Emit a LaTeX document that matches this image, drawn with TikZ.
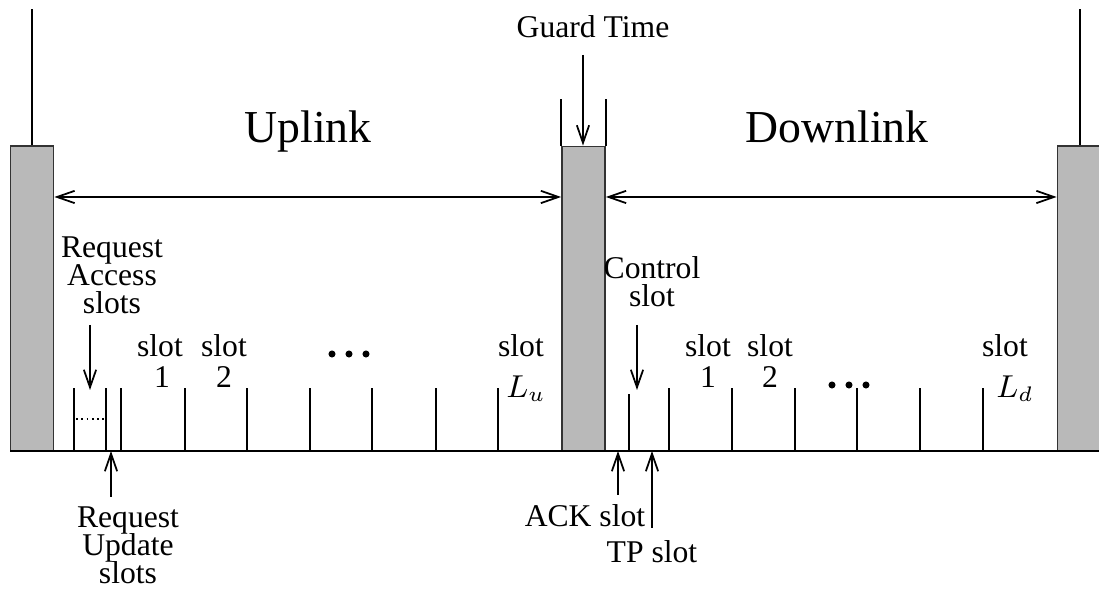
\documentclass[tikz,border=0pt]{standalone}
\usepackage{fontspec}
\setmainfont{Liberation Serif}
\usetikzlibrary{arrows.meta}

\newcommand\lblfont{\fontsize{9}{8}\selectfont\lineskiplimit=-6pt\relax}

\tikzset{
  guard/.style={draw=black!80, fill=gray!55, line width=0.5pt,
                inner sep=0, minimum width=0.43cm, minimum height=3.05cm},
  tick/.style={line width=0.5pt},
  lbl/.style={font=\lblfont, inner sep=0, align=center},
  big lbl/.style={font=\fontsize{13}{15}\selectfont, inner sep=0},
  ptr/.style={-{Straight Barb[length=5pt,width=3.5pt]}, line width=0.5pt},
  span arrow/.style={{Straight Barb[length=5pt,width=3.5pt]}-{Straight Barb[length=5pt,width=3.5pt]}, line width=0.5pt},
}

\begin{document}
\begin{tikzpicture}[x=0.01cm, y=-0.01cm]
    \useasboundingbox (0,0) rectangle (1099,589);

    % --- guard boxes ---
    \node[guard] (gl) at (32, 298.5) {};
    \node[guard] (gm) at (583.5, 299) {};
    \node[guard, minimum width=0.45cm] (gr) at (1080, 298.5) {};
    \draw[tick] (gl.north) -- ++(0,-136);
    \draw[tick] (gr.north) -- ++(0,-136);
    \draw[tick] (gm.north west) -- ++(0,-47);
    \draw[tick] (gm.north east) -- ++(0,-47);

    % --- time axis ---
    \coordinate (axl) at (10,451);
    \coordinate (axr) at (1099,451);
    \draw[line width=0.7pt] (axl) -- (axr);

    % --- uplink / downlink spans ---
    \coordinate (lk) at (0,197);
    \draw[span arrow] (gl.east |- lk) -- (gm.west |- lk);
    \draw[span arrow] (gm.east |- lk) -- (gr.west |- lk);
    \node[big lbl, anchor=base] (up) at (308,143) {Uplink};
    \node[big lbl, anchor=base] (down) at (837,143) {Downlink};

    % --- guard time ---
    \node[lbl, anchor=base] (gt) at (593,38) {Guard Time};
    \coordinate (gtp) at (583,55);
    \draw[ptr] (gtp) -- (gtp |- gm.north);

    % --- uplink slots ---
    \foreach \x in {74,106,121,185,247,310,372,436,498}
      \draw[tick] (\x,451) -- (\x,388);
    \draw[tick, densely dotted] (76,419) -- (106,419);
    \node[lbl, anchor=base] (us1) at (160,357) {slot};
    \node[lbl, anchor=base] (un1) at (162,388) {1};
    \node[lbl, anchor=base] (us2) at (224,357) {slot};
    \node[lbl, anchor=base] (un2) at (224,388) {2};
    \node[lbl, anchor=base] (usl) at (521,357) {slot};
    \node[lbl, anchor=base] (unl) at (526,398) {$L_u$};
    \foreach \x in {332,349,366}
      \fill (\x,354) circle[radius=1pt];

    % --- request access / update ---
    \node[lbl, anchor=north] (ra) at (112,236) {Request\\Access\\slots};
    \coordinate (rap) at (90,325);
    \draw[ptr] (rap) -- (90,390);
    \node[lbl, anchor=north] (ru) at (128,506) {Request\\Update\\slots};
    \coordinate (rup) at (111,497);
    \draw[ptr] (rup) -- (rup |- axl);

    % --- downlink slots ---
    \draw[tick] (629,451) -- (629,394);
    \foreach \x in {669,732,795,857,920,983}
      \draw[tick] (\x,451) -- (\x,388);
    \node[lbl, anchor=base] (ds1) at (708,357) {slot};
    \node[lbl, anchor=base] (dn1) at (708,388) {1};
    \node[lbl, anchor=base] (ds2) at (770,357) {slot};
    \node[lbl, anchor=base] (dn2) at (770,388) {2};
    \node[lbl, anchor=base] (dsl) at (1005,357) {slot};
    \node[lbl, anchor=base] (dnl) at (1015,398) {$L_d$};
    \foreach \x in {832,849,866}
      \fill (\x,385) circle[radius=1pt];

    % --- control / ACK / TP ---
    \node[lbl, anchor=north] (cs) at (652,256) {Control\\slot};
    \coordinate (csp) at (637,325);
    \draw[ptr] (csp) -- (637,390);
    \node[lbl, anchor=base] (ack) at (585,527) {ACK slot};
    \coordinate (ackp) at (618,495);
    \draw[ptr] (ackp) -- (ackp |- axl);
    \node[lbl, anchor=base] (tp) at (652,563) {TP slot};
    \coordinate (tpp) at (652,528);
    \draw[ptr] (tpp) -- (tpp |- axl);
\end{tikzpicture}
\end{document}
